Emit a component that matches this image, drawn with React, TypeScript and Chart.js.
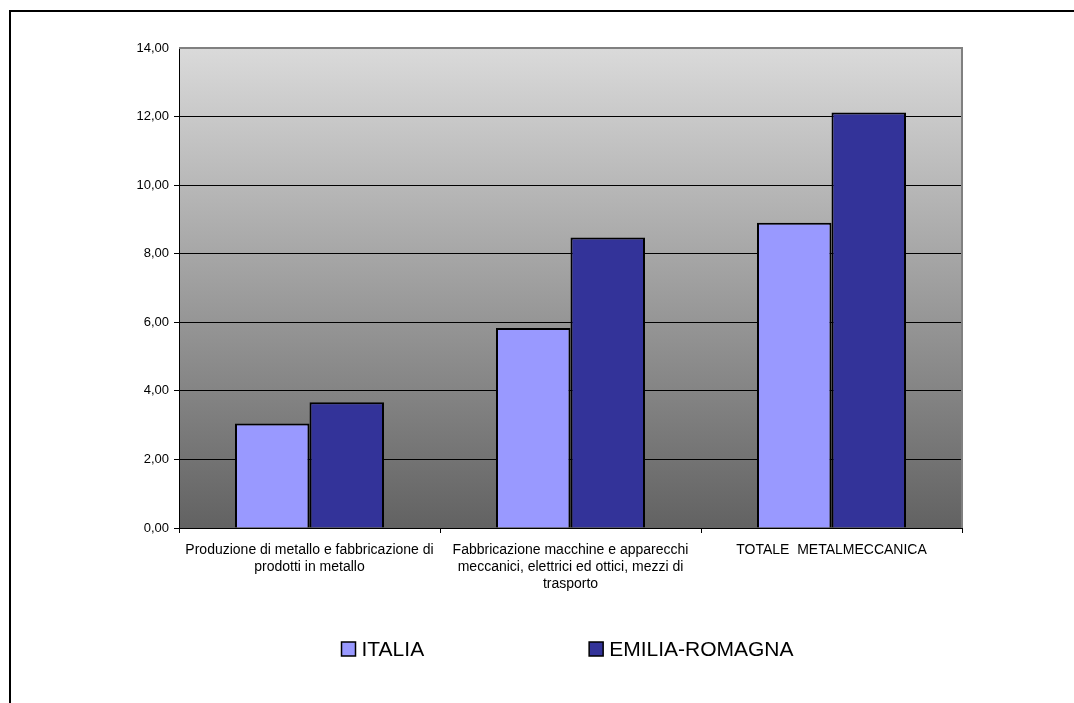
import React, { useEffect, useRef } from "react";
import { Chart, registerables } from "chart.js";

Chart.register(...registerables);

const categories: string[][] = [
  ["Produzione di metallo e fabbricazione di", "prodotti in metallo"],
  ["Fabbricazione macchine e apparecchi", "meccanici, elettrici ed ottici, mezzi di", "trasporto"],
  ["TOTALE  METALMECCANICA"],
];
const seriesNames = ["ITALIA", "EMILIA-ROMAGNA"];
const italia = [3.05, 5.83, 8.9];
const emilia = [3.67, 8.47, 12.12];
const seriesColors = ["#9999FF", "#333399"];
const yMin = 0;
const yMax = 14;
const yStep = 2;

const FONT = "'Liberation Sans', Arial, sans-serif";

const decorPlugin = {
  id: "decor",
  beforeDraw(chart: any) {
    const { ctx, chartArea } = chart;
    const { left, top, right, bottom } = chartArea;
    ctx.save();
    ctx.fillStyle = "#ffffff";
    ctx.fillRect(0, 0, chart.width, chart.height);
    const g = ctx.createLinearGradient(0, top, 0, bottom);
    g.addColorStop(0, "#dadada");
    g.addColorStop(1, "#626262");
    ctx.fillStyle = g;
    ctx.fillRect(left, top, right - left, bottom - top);
    // outer frame
    ctx.strokeStyle = "#000";
    ctx.lineWidth = 2;
    ctx.strokeRect(10, 11, chart.width + 50, chart.height + 50);
    ctx.restore();
  },
  afterDatasetsDraw(chart: any) {
    const { ctx, chartArea } = chart;
    const { left, top, right, bottom } = chartArea;
    ctx.save();
    ctx.strokeStyle = "#808080";
    ctx.lineWidth = 2;
    ctx.beginPath();
    ctx.moveTo(left, top);
    ctx.lineTo(right, top);
    ctx.lineTo(right, bottom);
    ctx.stroke();
    ctx.restore();
  },
  afterDraw(chart: any) {
    const { ctx, chartArea } = chart;
    ctx.save();
    ctx.font = `21px ${FONT}`;
    ctx.textBaseline = "middle";
    const box = 14;
    const gapBoxText = 6;
    const gapItems = 165;
    const datasets = chart.data.datasets;
    const widths = datasets.map((d: any) => ctx.measureText(d.label).width);
    let total = 0;
    widths.forEach((w: number, i: number) => {
      total += box + gapBoxText + w + (i < widths.length - 1 ? gapItems : 0);
    });
    let x = (chartArea.left + chartArea.right) / 2 - 3 - total / 2;
    const cy = 649;
    datasets.forEach((d: any, i: number) => {
      ctx.fillStyle = d.backgroundColor;
      ctx.fillRect(x, cy - box / 2, box, box);
      ctx.strokeStyle = "#000";
      ctx.lineWidth = 1.5;
      ctx.strokeRect(x, cy - box / 2, box, box);
      ctx.fillStyle = "#000";
      ctx.fillText(d.label, x + box + gapBoxText, cy + 1);
      x += box + gapBoxText + widths[i] + gapItems;
    });
    ctx.restore();
  },
};

export default function App() {
  const ref = useRef<HTMLCanvasElement | null>(null);
  useEffect(() => {
    if (!ref.current) return;
    const chart = new Chart(ref.current, {
      type: "bar",
      data: {
        labels: categories,
        datasets: [
          {
            label: seriesNames[0],
            data: italia,
            backgroundColor: seriesColors[0],
            borderColor: "#000",
            borderWidth: 2,
            categoryPercentage: 0.571,
            barPercentage: 1,
          },
          {
            label: seriesNames[1],
            data: emilia,
            backgroundColor: seriesColors[1],
            borderColor: "#000",
            borderWidth: 2,
            categoryPercentage: 0.571,
            barPercentage: 1,
          },
        ],
      },
      options: {
        responsive: false,
        animation: false,
        layout: { padding: { left: 0, top: 48, right: 112, bottom: 0 } },
        plugins: {
          legend: { display: false },
          tooltip: { enabled: false },
          title: { display: false },
        },
        scales: {
          x: {
            grid: {
              offset: true,
              drawOnChartArea: false,
              drawTicks: true,
              tickLength: 5,
              color: "#000",
            },
            border: { display: true, color: "#000", width: 1 },
            ticks: {
              color: "#000",
              font: { family: FONT, size: 14, lineHeight: 1.2 },
              maxRotation: 0,
              minRotation: 0,
              autoSkip: false,
              padding: 9,
            },
            afterFit: (s: any) => {
              s.height = 175;
            },
          },
          y: {
            min: yMin,
            max: yMax,
            ticks: {
              stepSize: yStep,
              color: "#000",
              font: { family: FONT, size: 13 },
              padding: 5,
              callback: (v: any) => Number(v).toFixed(2).replace(".", ","),
            },
            grid: {
              color: (c: any) => (c.tick && c.tick.value === yMax ? "rgba(0,0,0,0)" : "#000"),
              lineWidth: 1,
              drawTicks: true,
              tickLength: 5,
            },
            border: { display: true, color: "#000", width: 1 },
            afterFit: (s: any) => {
              s.width = 179;
            },
          },
        },
      },
      plugins: [decorPlugin],
    });
    return () => chart.destroy();
  }, []);
  return (
    <div style={{ position: "fixed", left: 0, top: 0, width: 1074, height: 703, background: "#fff" }}>
      <canvas ref={ref} width={1074} height={703} />
    </div>
  );
}
